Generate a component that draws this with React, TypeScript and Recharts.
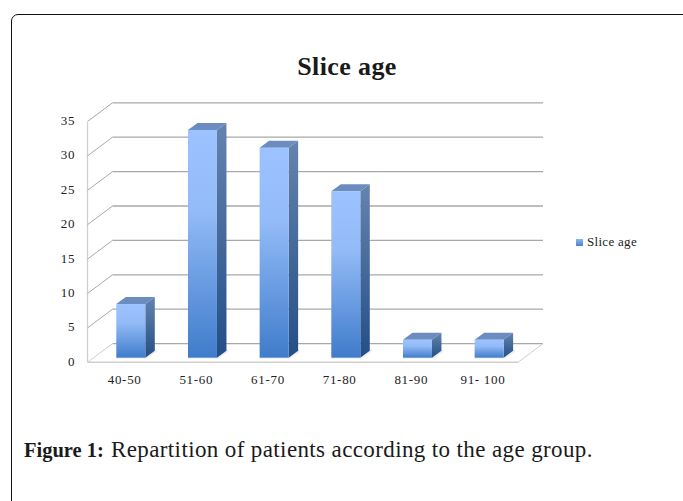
import { Bar, BarChart, CartesianGrid, Legend, XAxis, YAxis } from "recharts";

const AGE_GROUPS = ["40-50", "51-60", "61-70", "71-80", "81-90", "91- 100"];
const SLICE_AGE = [7.8, 33.1, 30.5, 24.2, 2.6, 2.6];
const Y_TICKS = [0, 5, 10, 15, 20, 25, 30, 35];

const chartData = AGE_GROUPS.map((name, i) => ({ name, value: SLICE_AGE[i] }));

const SERIF = "'Liberation Serif', serif";
const GRID = "#a9a9a9";
const FLOOR = "#cfcfcf";
const LABEL = "#222";

// fausse 3D : décalage entre le plan avant et le mur du fond
const DEPTH_X = 9.5;
const DEPTH_Y = 7;
const WALL_DX = 25;
const WALL_DY = 18.7;
const FLOOR_DROP = 4.6;
const WALL_LEFT = 87.5;
const WALL_RIGHT = 543;

const Bar3D = ({ x, y, width, height }: any) => {
  const r = x + width;
  const b = y + height;
  return (
    <g>
      <path
        d={`M${x - 1},${b + 1} L${r + 1},${b + 1} L${r + DEPTH_X + 2},${b - DEPTH_Y + 1} L${r + DEPTH_X + 2},${b - DEPTH_Y - 2} L${r},${b} L${x},${b} Z`}
        fill="#eeeeee"
      />
      <path
        d={`M${x},${y} L${r},${y} L${r + DEPTH_X},${y - DEPTH_Y} L${x + DEPTH_X},${y - DEPTH_Y} Z`}
        fill="#6a8cbf"
      />
      <path
        d={`M${r},${y} L${r + DEPTH_X},${y - DEPTH_Y} L${r + DEPTH_X},${b - DEPTH_Y} L${r},${b} Z`}
        fill="url(#sideFace)"
      />
      <rect x={x} y={y} width={width} height={height} fill="url(#frontFace)" />
    </g>
  );
};

// une ligne de grille = ligne du fond + diagonale sur le mur gauche
const WallLine = ({ y1 }: any) => {
  const frontY = y1 + FLOOR_DROP;
  const backY = frontY - WALL_DY;
  const isFloor = Math.abs(frontY - 362.3) < 1;
  return (
    <g>
      <line x1={WALL_LEFT + WALL_DX} y1={backY} x2={WALL_RIGHT} y2={backY} stroke={GRID} strokeWidth={1.3} />
      <line x1={WALL_LEFT} y1={frontY} x2={WALL_LEFT + WALL_DX} y2={backY} stroke={isFloor ? FLOOR : GRID} strokeWidth={1} />
      {isFloor ? (
        <>
          <line x1={WALL_LEFT} y1={frontY} x2={518} y2={frontY} stroke={FLOOR} strokeWidth={1.5} />
          <line x1={518} y1={frontY} x2={WALL_RIGHT} y2={backY} stroke={FLOOR} strokeWidth={1} />
          <line x1={WALL_LEFT} y1={122.3} x2={WALL_LEFT} y2={frontY} stroke={FLOOR} strokeWidth={1.3} />
        </>
      ) : null}
    </g>
  );
};

const CategoryTick = ({ x, payload }: any) => (
  <text x={x - 6.5} y={384} textAnchor="middle" fontFamily={SERIF} fontSize={13} fill={LABEL} letterSpacing={0.7}>
    {payload.value}
  </text>
);

const ValueTick = ({ y, payload }: any) => (
  <text x={75.5} y={y + FLOOR_DROP + 3.5} textAnchor="end" fontFamily={SERIF} fontSize={13} fill={LABEL} letterSpacing={0.9}>
    {payload.value}
  </text>
);

const LegendItem = () => (
  <div style={{ display: "flex", alignItems: "center", fontFamily: SERIF, fontSize: 13, color: LABEL, letterSpacing: 0.3 }}>
    <span
      style={{
        display: "inline-block",
        width: 7,
        height: 7,
        marginRight: 4,
        background: "linear-gradient(#8fb6ef, #4a82cc)",
      }}
    />
    Slice age
  </div>
);

export default function App() {
  return (
    <div style={{ position: "absolute", left: 0, top: 0, width: 683, height: 501, background: "#fff", overflow: "hidden" }}>
      <div
        style={{
          position: "absolute",
          left: 11,
          top: 14,
          width: 700,
          height: 600,
          border: "1.5px solid #111",
          borderTopLeftRadius: 7,
          boxSizing: "border-box",
        }}
      />
      <div
        style={{
          position: "absolute",
          left: 247,
          width: 200,
          top: 52,
          textAlign: "center",
          fontFamily: SERIF,
          fontWeight: "bold",
          fontSize: 26,
          letterSpacing: 0.4,
          color: "#1a1a1a",
        }}
      >
        Slice age
      </div>
      <BarChart
        width={683}
        height={400}
        data={chartData}
        margin={{ top: 116.9, right: 157.7, bottom: 12.3, left: 65.3 }}
        style={{ position: "absolute", left: 0, top: 0 }}
      >
        <defs>
          <linearGradient id="frontFace" x1="0" y1="0" x2="0" y2="1">
            <stop offset="0%" stopColor="#9cc3ff" />
            <stop offset="35%" stopColor="#93bbf7" />
            <stop offset="100%" stopColor="#3f7ccb" />
          </linearGradient>
          <linearGradient id="sideFace" x1="0" y1="0" x2="0" y2="1">
            <stop offset="0%" stopColor="#6583ae" />
            <stop offset="100%" stopColor="#234f86" />
          </linearGradient>
        </defs>
        <CartesianGrid vertical={false} horizontal={(props: any) => <WallLine {...props} />} syncWithTicks />
        <XAxis dataKey="name" height={30} axisLine={false} tickLine={false} tick={<CategoryTick />} interval={0} />
        <YAxis
          type="number"
          domain={[0, 35]}
          ticks={Y_TICKS}
          width={30}
          axisLine={false}
          tickLine={false}
          tick={<ValueTick />}
          interval={0}
        />
        <Legend
          layout="horizontal"
          verticalAlign="middle"
          content={<LegendItem />}
          wrapperStyle={{ position: "absolute", left: 576, top: 234, width: 90 }}
        />
        <Bar dataKey="value" name="Slice age" barSize={29} shape={<Bar3D />} isAnimationActive={false} />
      </BarChart>
      <div
        style={{
          position: "absolute",
          left: 24,
          top: 437,
          fontFamily: SERIF,
          fontSize: 23,
          color: "#1a1a1a",
          whiteSpace: "nowrap",
        }}
      >
        <b style={{ fontSize: 20.5 }}>Figure 1:</b>
        <span style={{ letterSpacing: 0.38, marginLeft: 1 }}> Repartition of patients according to the age group.</span>
      </div>
    </div>
  );
}
